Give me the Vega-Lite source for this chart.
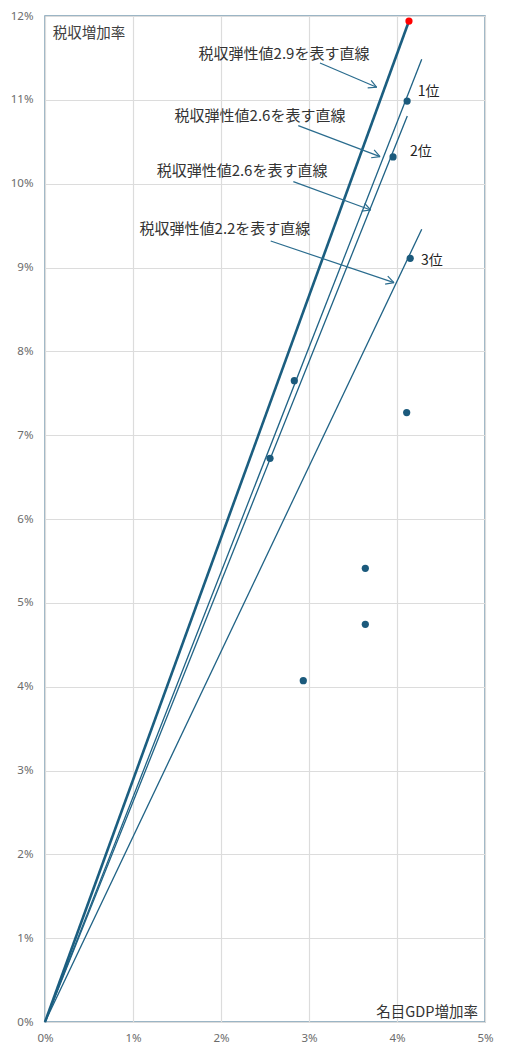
{
  "$schema": "https://vega.github.io/schema/vega-lite/v6.json",
  "autosize": "none",
  "width": 440,
  "height": 1006,
  "padding": {"left": 45, "top": 16, "right": 25, "bottom": 36},
  "background": "white",
  "config": {
    "view": {"stroke": "#7b9db2", "strokeWidth": 1.5},
    "axis": {
      "domain": false, "ticks": false, "grid": true, "gridColor": "#dcdcdc", "gridWidth": 1.2,
      "labelFont": "Noto Sans", "labelFontSize": 11.5, "labelColor": "#6b6b6b", "title": null, "labelFlush": false
    }
  },
  "datasets": {
    "lines": [
      {"line": "e29", "x": 0, "y": 0}, {"line": "e29", "x": 4.136, "y": 11.94},
      {"line": "a", "x": 0, "y": 0}, {"line": "a", "x": 4.281, "y": 11.484},
      {"line": "b", "x": 0, "y": 0}, {"line": "b", "x": 4.117, "y": 10.808},
      {"line": "c", "x": 0, "y": 0}, {"line": "c", "x": 4.281, "y": 9.456}
    ],
    "points": [
      {"x": 4.115, "y": 10.985},
      {"x": 3.955, "y": 10.319},
      {"x": 4.150, "y": 9.11},
      {"x": 2.833, "y": 7.650},
      {"x": 2.557, "y": 6.724},
      {"x": 4.110, "y": 7.269},
      {"x": 3.640, "y": 5.412},
      {"x": 3.640, "y": 4.744},
      {"x": 2.935, "y": 4.072}
    ],
    "top": [{"x": 4.136, "y": 11.94}],
    "arrows": [
      {"x": 3.125, "y": 11.440, "x2": 3.769, "y2": 11.150},
      {"x": 3.706, "y": 11.233, "x2": 3.769, "y2": 11.150},
      {"x": 3.667, "y": 11.142, "x2": 3.769, "y2": 11.150},
      {"x": 2.878, "y": 10.692, "x2": 3.807, "y2": 10.322},
      {"x": 3.740, "y": 10.403, "x2": 3.807, "y2": 10.322},
      {"x": 3.706, "y": 10.309, "x2": 3.807, "y2": 10.322},
      {"x": 2.822, "y": 10.024, "x2": 3.701, "y2": 9.686},
      {"x": 3.633, "y": 9.766, "x2": 3.701, "y2": 9.686},
      {"x": 3.600, "y": 9.672, "x2": 3.701, "y2": 9.686},
      {"x": 2.565, "y": 9.316, "x2": 3.966, "y2": 8.819},
      {"x": 3.895, "y": 8.897, "x2": 3.966, "y2": 8.819},
      {"x": 3.865, "y": 8.801, "x2": 3.966, "y2": 8.819}
    ],
    "notes": [
      {"x": 2.716, "y": 11.547, "t": "税収弾性値2.9を表す直線"},
      {"x": 2.443, "y": 10.808, "t": "税収弾性値2.6を表す直線"},
      {"x": 2.239, "y": 10.151, "t": "税収弾性値2.6を表す直線"},
      {"x": 2.045, "y": 9.463, "t": "税収弾性値2.2を表す直線"}
    ],
    "ranks": [
      {"x": 4.235, "y": 11.094, "t": "1位"},
      {"x": 4.148, "y": 10.378, "t": "2位"},
      {"x": 4.273, "y": 9.082, "t": "3位"}
    ],
    "ytitle": [{"x": 0.0875, "y": 11.786, "t": "税収増加率"}],
    "xtitle": [{"x": 4.92, "y": 0.111, "t": "名目GDP増加率"}]
  },
  "encoding": {
    "x": {"field": "x", "type": "quantitative", "scale": {"domain": [0, 5], "nice": false, "zero": false},
      "axis": {"values": [0, 1, 2, 3, 4, 5], "labelExpr": "datum.value + '%'", "labelPadding": 10}},
    "y": {"field": "y", "type": "quantitative", "scale": {"domain": [0, 12], "nice": false, "zero": false},
      "axis": {"values": [0, 1, 2, 3, 4, 5, 6, 7, 8, 9, 10, 11, 12], "labelExpr": "datum.value + '%'", "labelPadding": 12}}
  },
  "layer": [
    {
      "data": {"name": "lines"},
      "transform": [{"filter": "datum.line != 'e29'"}],
      "mark": {"type": "line", "color": "#1f6285", "strokeWidth": 1.3},
      "encoding": {"detail": {"field": "line"}}
    },
    {
      "data": {"name": "lines"},
      "transform": [{"filter": "datum.line == 'e29'"}],
      "mark": {"type": "line", "color": "#1b5e80", "strokeWidth": 2.6},
      "encoding": {"detail": {"field": "line"}}
    },
    {
      "data": {"name": "arrows"},
      "mark": {"type": "rule", "color": "#2a6c8e", "strokeWidth": 1.2},
      "encoding": {"x2": {"field": "x2"}, "y2": {"field": "y2"}}
    },
    {
      "data": {"name": "points"},
      "mark": {"type": "point", "filled": true, "color": "#1b5a7c", "size": 52, "opacity": 1, "clip": false}
    },
    {
      "data": {"name": "top"},
      "mark": {"type": "point", "filled": true, "color": "#ff0000", "size": 52, "opacity": 1, "clip": false}
    },
    {
      "data": {"name": "notes"},
      "mark": {"type": "text", "font": "Noto Sans CJK JP", "fontSize": 15, "color": "#333333", "align": "center", "baseline": "middle"},
      "encoding": {"text": {"field": "t"}}
    },
    {
      "data": {"name": "ranks"},
      "mark": {"type": "text", "font": "Noto Sans CJK JP", "fontSize": 14, "color": "#222222", "align": "left", "baseline": "middle"},
      "encoding": {"text": {"field": "t"}}
    },
    {
      "data": {"name": "ytitle"},
      "mark": {"type": "text", "font": "Noto Sans CJK JP", "fontSize": 14.5, "color": "#404040", "align": "left", "baseline": "middle"},
      "encoding": {"text": {"field": "t"}}
    },
    {
      "data": {"name": "xtitle"},
      "mark": {"type": "text", "font": "Noto Sans CJK JP", "fontSize": 14.5, "color": "#333333", "align": "right", "baseline": "middle"},
      "encoding": {"text": {"field": "t"}}
    }
  ]
}
